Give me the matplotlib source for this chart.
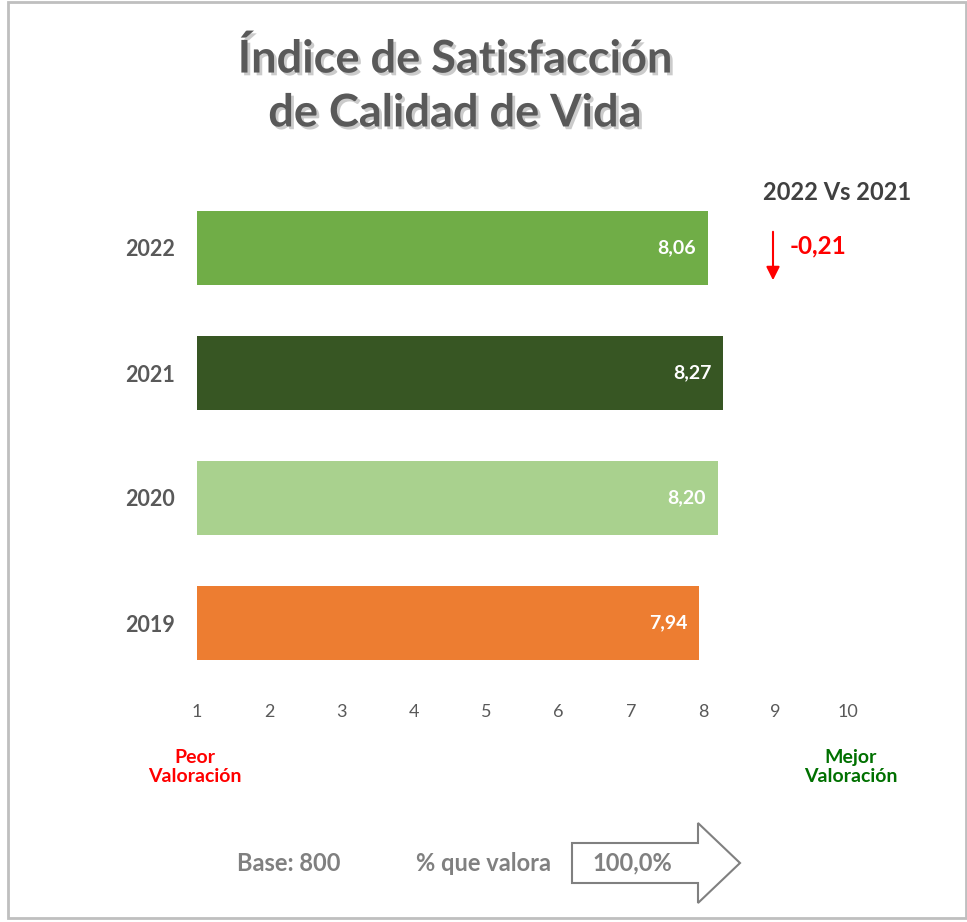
import matplotlib.pyplot as plt
import matplotlib.patheffects as pe
from matplotlib.patches import Rectangle, Polygon, FancyArrowPatch

# data
years = ["2019", "2020", "2021", "2022"]
scores = [7.94, 8.20, 8.27, 8.06]
bar_colors = ["#ED7D31", "#A9D18E", "#375623", "#70AD47"]
ticks = [1, 2, 3, 4, 5, 6, 7, 8, 9, 10]
diff_label = "-0,21"
base_n = 800
pct_valora = 100.0

W, H = 967, 922
fig = plt.figure(figsize=(W / 100, H / 100), dpi=100)
fig.patch.set_facecolor("white")

def fx(px):
    return px / W

def fy(py):
    return 1 - py / H

# frame around the whole card
fig.patches.append(Rectangle((fx(8), fy(918)), fx(958), fy(2) - fy(918), transform=fig.transFigure,
                             fill=False, edgecolor="#BFBFBF", linewidth=2))

ax = fig.add_axes([fx(197), fy(685.5), fx(848) - fx(197), fy(185.5) - fy(685.5)])
ypos = list(range(len(years)))
ax.barh(ypos, [s - 1 for s in scores], left=1, height=0.585, color=bar_colors)
for y, s in zip(ypos, scores):
    ax.text(s - 0.16, y, f"{s:.2f}".replace(".", ","), ha="right", va="center",
            color="white", fontsize=14, fontweight="bold", family="Lato")
ax.set_xlim(1, 10)
ax.set_ylim(-0.5, 3.5)
ax.set_xticks(ticks)
ax.set_xticklabels([str(t) for t in ticks], fontsize=13, color="#595959", family="Lato")
ax.set_yticks(ypos)
ax.set_yticklabels(years, fontsize=15.5, color="#595959", family="Lato", fontweight="bold")
ax.tick_params(axis="x", length=0, pad=13)
ax.tick_params(axis="y", length=0, pad=16)
for sp in ax.spines.values():
    sp.set_visible(False)

# title with soft shadow
shadow = [pe.SimplePatchShadow(offset=(2, -2), shadow_rgbFace="#BFBFBF", alpha=0.8), pe.Normal()]
fig.text(fx(455), fy(86), "Índice de Satisfacción\nde Calidad de Vida", ha="center", va="center",
         fontsize=32.5, fontweight="bold", family="Lato", color="#595959", linespacing=1.35,
         path_effects=shadow)

# comparison
fig.text(fx(837), fy(192), "2022 Vs 2021", ha="center", va="center", fontsize=17,
         fontweight="bold", color="#404040", family="Lato")
fig.patches.append(FancyArrowPatch(
    (fx(773), fy(229)), (fx(773), fy(283)), transform=fig.transFigure,
    arrowstyle="-|>,head_length=8,head_width=4", color="#FF0000", linewidth=1.5))
fig.text(fx(790), fy(246), diff_label, ha="left", va="center", fontsize=17.5,
         fontweight="bold", color="#FF0000", family="Lato")

# scale ends
fig.text(fx(195), fy(767), "Peor\nValoración", ha="center", va="center", fontsize=14,
         fontweight="bold", color="#FF0000", family="Lato", linespacing=1.1)
fig.text(fx(851), fy(767), "Mejor\nValoración", ha="center", va="center", fontsize=14,
         fontweight="bold", color="#007000", family="Lato", linespacing=1.1)

# base footer
fig.text(fx(289), fy(863), f"Base: {base_n}", ha="center", va="center", fontsize=17,
         fontweight="bold", color="#808080", family="Lato")
fig.text(fx(483), fy(863), "% que valora", ha="center", va="center", fontsize=17,
         fontweight="bold", color="#808080", family="Lato")
arrow_pts = [(572, 843), (698, 843), (698, 823), (740, 863), (698, 903), (698, 883), (572, 883)]
fig.patches.append(Polygon([(fx(x), fy(y)) for x, y in arrow_pts], closed=True,
                           transform=fig.transFigure, fill=False, edgecolor="#808080", linewidth=1.5))
fig.text(fx(632), fy(863), f"{pct_valora:.1f}%".replace(".", ","), ha="center", va="center",
         fontsize=17, fontweight="bold", color="#808080", family="Lato")

fig.savefig("out.png", dpi=100)
